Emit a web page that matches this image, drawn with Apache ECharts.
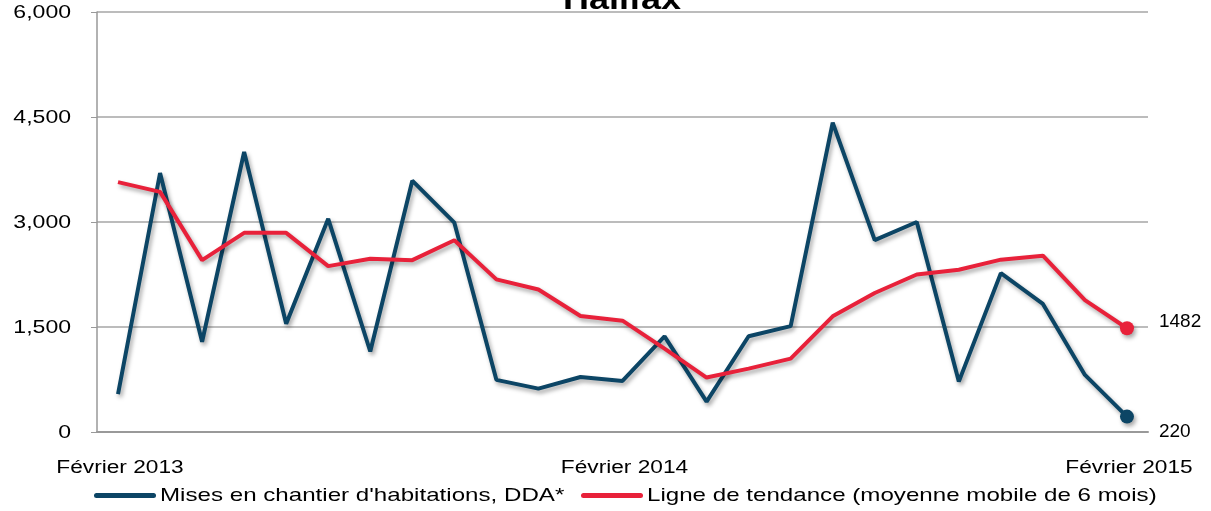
<!DOCTYPE html>
<html>
<head>
<meta charset="utf-8">
<title>Halifax</title>
<script src="https://cdn.jsdelivr.net/npm/echarts@6/dist/echarts.min.js"></script>
<style>
  html, body { margin: 0; padding: 0; background: #fff; }
  #chart { width: 1211px; height: 511px; }
</style>
</head>
<body>
<div id="chart"></div>
<script>
// months Feb 2013 .. Feb 2015
const months = [
  'Février 2013', 'Mars 2013', 'Avril 2013', 'Mai 2013', 'Juin 2013', 'Juillet 2013',
  'Août 2013', 'Septembre 2013', 'Octobre 2013', 'Novembre 2013', 'Décembre 2013', 'Janvier 2014',
  'Février 2014', 'Mars 2014', 'Avril 2014', 'Mai 2014', 'Juin 2014', 'Juillet 2014',
  'Août 2014', 'Septembre 2014', 'Octobre 2014', 'Novembre 2014', 'Décembre 2014', 'Janvier 2015',
  'Février 2015'
]
const shownMonths = ['Février 2013', 'Février 2014', 'Février 2015']

const starts = [540, 3700, 1290, 4000, 1545, 3045, 1150, 3590, 2990, 745, 620, 786,
  730, 1365, 435, 1368, 1512, 4420, 2740, 3000, 720, 2270, 1830, 815, 220]
const trend = [3570, 3430, 2455, 2845, 2845, 2370, 2475, 2455, 2740, 2180, 2035, 1657,
  1590, 1190, 778, 905, 1048, 1652, 1986, 2250, 2318, 2462, 2518, 1885, 1482]

const yTicks = { min: 0, max: 6000, interval: 1500 }

const seriesNames = ["Mises en chantier d'habitations, DDA*", 'Ligne de tendance (moyenne mobile de 6 mois)']

const blue = '#0c4565'
const red = '#e8213a'
const font = '"Liberation Sans", Arial, sans-serif'
// the source chart's text is stretched sideways
const stretch = 1.27

const shadow = {
  shadowColor: 'rgba(0,0,0,0.35)',
  shadowBlur: 4,
  shadowOffsetX: 2,
  shadowOffsetY: 3
}

// only the last point gets a marker and a value label
const withEndPoint = (arr, color, offset) => arr.map((v, i) => {
  if (i < arr.length - 1) return v
  return {
    value: v,
    symbol: 'circle',
    symbolSize: 14,
    itemStyle: { color: color, ...shadow },
    label: {
      show: true,
      position: 'right',
      offset: offset,
      color: '#000',
      fontSize: 19,
      fontFamily: font,
      formatter: '{c}'
    }
  }
})

const chart = echarts.init(document.getElementById('chart'))

chart.setOption({
  animation: false,
  textStyle: { fontFamily: font },
  grid: {
    left: 97,
    right: 63,
    top: 12,
    bottom: 79
  },
  xAxis: {
    type: 'category',
    boundaryGap: true,
    data: months,
    axisLine: { lineStyle: { color: '#999', width: 2 } },
    axisTick: { show: false },
    axisLabel: { show: false }
  },
  yAxis: {
    type: 'value',
    min: yTicks.min,
    max: yTicks.max,
    interval: yTicks.interval,
    axisLine: { show: true, lineStyle: { color: '#999', width: 1.5 } },
    axisTick: { show: true, length: 6, lineStyle: { color: '#999' } },
    axisLabel: { show: false },
    splitLine: { lineStyle: { color: '#a6a6a6', width: 1.5 } }
  },
  series: [
    {
      name: seriesNames[0],
      type: 'line',
      data: withEndPoint(starts, blue, [20, 15]),
      symbol: 'none',
      color: blue,
      lineStyle: { color: blue, width: 4, ...shadow },
      z: 3
    },
    {
      name: seriesNames[1],
      type: 'line',
      data: withEndPoint(trend, red, [20, -6]),
      symbol: 'none',
      color: red,
      lineStyle: { color: red, width: 4, ...shadow },
      z: 4
    }
  ]
})

// stretched text, placed with the chart's own axes
const txt = (text, x, y, align, vAlign, size, scaleX, bold) => ({
  type: 'text',
  x: x,
  y: y,
  scaleX: scaleX,
  style: {
    text: text,
    align: align,
    textAlign: align,
    verticalAlign: vAlign,
    textVerticalAlign: vAlign,
    fontSize: size,
    fontWeight: bold ? 'bold' : 'normal',
    fontFamily: font,
    fill: '#000'
  }
})

const labels = []
const axisX = chart.convertToPixel({ xAxisIndex: 0 }, months[0]) - 21
for (let v = yTicks.min; v <= yTicks.max; v += yTicks.interval) {
  const y = chart.convertToPixel({ yAxisIndex: 0 }, v)
  labels.push(txt(v.toLocaleString('en-US'), axisX - 26, y + 1.5, 'right', 'middle', 18, 1.28))
}
shownMonths.forEach(m => {
  const x = chart.convertToPixel({ xAxisIndex: 0 }, m)
  labels.push(txt(m, x + 2, 468, 'center', 'middle', 18, 1.26))
})

// title, cut off by the top edge as in the source
labels.push(txt('Halifax', 622, -14, 'center', 'top', 30, 1.2, true))

// legend
labels.push(
  { type: 'rect', shape: { x: 94, y: 493, width: 62, height: 5, r: 2.5 }, style: { fill: blue } },
  txt(seriesNames[0], 160, 496, 'left', 'middle', 19, stretch),
  { type: 'rect', shape: { x: 581, y: 493, width: 62, height: 5, r: 2.5 }, style: { fill: red } },
  txt(seriesNames[1], 647, 496, 'left', 'middle', 19, stretch)
)

chart.setOption({ graphic: labels })

window.addEventListener('resize', () => chart.resize())
</script>
</body>
</html>
